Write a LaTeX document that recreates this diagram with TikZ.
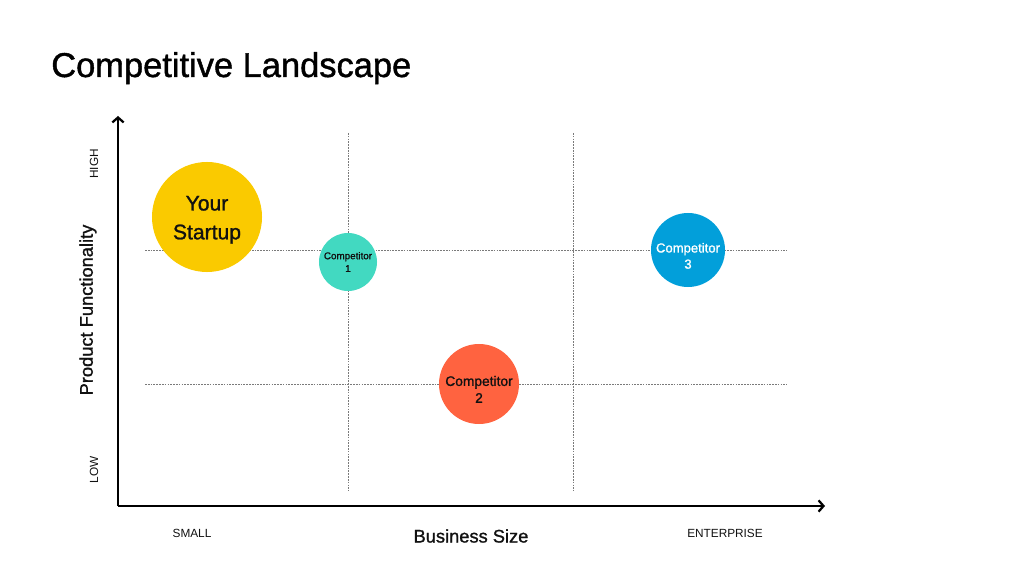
\documentclass[tikz,border=0pt]{standalone}
\usepackage{fontspec}
\setmainfont{Liberation Sans}
\newfontfamily\mediumfont[FakeBold=1.2]{Liberation Sans}
\usepackage{xcolor}
\usetikzlibrary{arrows.meta, positioning}
\definecolor{StartupYellow}{HTML}{FACA00}
\definecolor{CompTeal}{HTML}{42D9C1}
\definecolor{CompOrange}{HTML}{FF6340}
\definecolor{CompBlue}{HTML}{029FDA}
\definecolor{GridGray}{HTML}{7A7A7A}
\definecolor{TextDark}{HTML}{111111}
\tikzset{
    % Bubble styles
    bubble/.style={
        circle,
        draw=none,
        inner sep=0pt
    },
    bubbletext/.style={
        align=center,
        inner sep=0pt,
        text=TextDark
    },
    % Axis and grid styles
    axis/.style={
        -{Straight Barb[length=3.5pt, width=8pt, line width=1.6pt]},
        line width=2.1pt,
        draw=black
    },
    gridline/.style={
        line width=0.35pt,
        draw=GridGray,
        dash pattern=on 1.2pt off 0.8pt
    },
    ticklabel/.style={
        font=\fontsize{8.4}{10}\selectfont,
        text=TextDark
    },
    axislabel/.style={
        font=\fontsize{13}{15}\mediumfont,
        text=TextDark
    }
}

\begin{document}
\begin{tikzpicture}[x=0.025cm, y=-0.025cm]
    \useasboundingbox (0,0) rectangle (1024,576);

    % Title
    \node[anchor=base west, inner sep=0pt, font=\fontsize{24.5}{28}\mediumfont] (title) at (51,77) {Competitive Landscape};

    % Axes
    \coordinate (origin) at (118,506);
    \coordinate (ytip) at (118,116);
    \coordinate (xtip) at (825,506);
    \draw[axis] (origin) -- (ytip);
    \draw[axis] (origin) -- (xtip);

    % Grid lines
    \foreach \x in {348,573} {
        \draw[gridline] (\x,133) -- (\x,491);
    }
    \foreach \y in {250,384} {
        \draw[gridline] (145,\y) -- (787,\y);
    }

    % Bubbles
    \node[bubble, fill=StartupYellow, minimum size=2.75cm,
        label={[bubbletext, yshift=-2pt, font=\fontsize{15}{20.5}\mediumfont]center:Your\\Startup}] (startup) at (207,217) {};
    \node[bubble, fill=CompTeal, minimum size=1.45cm,
        label={[bubbletext, font=\fontsize{7}{9}\mediumfont]center:Competitor\\1}] (comp1) at (348,262) {};
    \node[bubble, fill=CompOrange, minimum size=2cm,
        label={[bubbletext, yshift=-3.8pt, font=\fontsize{9.8}{12}\mediumfont]center:Competitor\\2}] (comp2) at (479,384) {};
    \node[bubble, fill=CompBlue, minimum size=1.85cm,
        label={[bubbletext, yshift=-4.2pt, text=white, font=\fontsize{9.3}{11.5}\mediumfont]center:Competitor\\3}] (comp3) at (688,250) {};

    % Axis labels
    \node[ticklabel, rotate=90] (high) at (94,164) {HIGH};
    \node[ticklabel, rotate=90] (low) at (94,470) {LOW};
    \node[axislabel, rotate=90] (yname) at (88,310) {Product Functionality};
    \node[ticklabel] (small) at (192,533) {SMALL};
    \node[ticklabel] (enterprise) at (725,533) {ENTERPRISE};
    \node[axislabel] (xname) at (471,536) {Business Size};
\end{tikzpicture}
\end{document}
